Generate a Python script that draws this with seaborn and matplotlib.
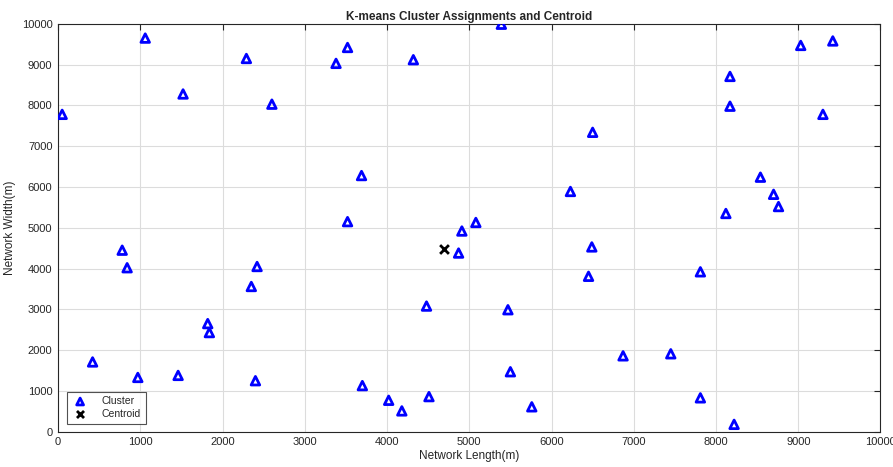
"""
K-means cluster assignments plot (MATLAB look) with seaborn.
"""

import matplotlib
matplotlib.use("Agg")
import matplotlib.pyplot as plt
import seaborn as sns
import pandas as pd

# Node positions
node_x = [50, 1060, 1520, 2290, 2600, 3380, 3520, 4320, 5390, 6500,
          3690, 3520, 4910, 5080, 4870, 6230, 6490, 6450, 780, 840,
          2420, 2350, 1820, 1840, 420, 970, 1460, 2400, 4480, 5470,
          5500, 3700, 4020, 4180, 4510, 5760, 6870, 7450, 7810, 7810,
          8220, 8170, 8170, 9030, 9420, 9300, 8540, 8700, 8760, 8120]
node_y = [7780, 9650, 8280, 9150, 8030, 9030, 9420, 9120, 9990, 7340,
          6280, 5150, 4920, 5130, 4380, 5890, 4530, 3810, 4450, 4020,
          4050, 3560, 2650, 2430, 1710, 1330, 1380, 1250, 3080, 2990,
          1470, 1130, 770, 510, 860, 610, 1860, 1910, 3920, 830,
          180, 8710, 7980, 9470, 9580, 7780, 6240, 5820, 5520, 5350]

centroid_x = [4690]
centroid_y = [4480]

x_ticks = list(range(0, 10001, 1000))
y_ticks = list(range(0, 10001, 1000))


def main():
    sns.set_style("white")
    plt.rcParams['font.family'] = ['Liberation Sans', 'DejaVu Sans']

    nodes = pd.DataFrame({'x': node_x, 'y': node_y})
    cent = pd.DataFrame({'x': centroid_x, 'y': centroid_y})

    fig = plt.figure(figsize=(8.93, 4.67), dpi=100)
    ax = fig.add_axes([0.065, 0.0756, 0.921, 0.8734])

    sns.scatterplot(data=nodes, x='x', y='y', ax=ax, marker='^', s=38,
                    facecolors='none', edgecolor='#0000ff', linewidth=2,
                    label='Cluster', zorder=3)
    sns.scatterplot(data=cent, x='x', y='y', ax=ax, marker='x', s=40,
                    color='black', linewidth=2, label='Centroid', zorder=3)

    ax.set_xlim(0, 10000)
    ax.set_ylim(0, 10000)
    ax.set_xticks(x_ticks)
    ax.set_yticks(y_ticks)
    ax.grid(True, color='#dcdcdc', linewidth=0.8)
    ax.set_axisbelow(True)

    ax.tick_params(direction='in', top=True, right=True, length=4,
                   width=0.8, colors='#262626', labelsize=8, pad=4)
    for side in ax.spines.values():
        side.set_color('#262626')
        side.set_linewidth(0.8)

    ax.set_title('K-means Cluster Assignments and Centroid', fontsize=8.5,
                 fontweight='bold', pad=3)
    ax.set_xlabel('Network Length(m)', fontsize=8.5, color='#262626', labelpad=2)
    ax.set_ylabel('Network Width(m)', fontsize=8.5, color='#262626', labelpad=4)

    leg = ax.legend(loc='lower left', fontsize=7.5, frameon=True, fancybox=False,
                    edgecolor='#262626', borderpad=0.45, handletextpad=1.3,
                    handlelength=1.6, labelspacing=0.25, borderaxespad=0,
                    markerscale=0.8, bbox_to_anchor=(0.011, 0.02))
    leg.get_frame().set_linewidth(0.8)

    fig.savefig('out.png', dpi=100)
    plt.close(fig)


if __name__ == "__main__":
    main()
